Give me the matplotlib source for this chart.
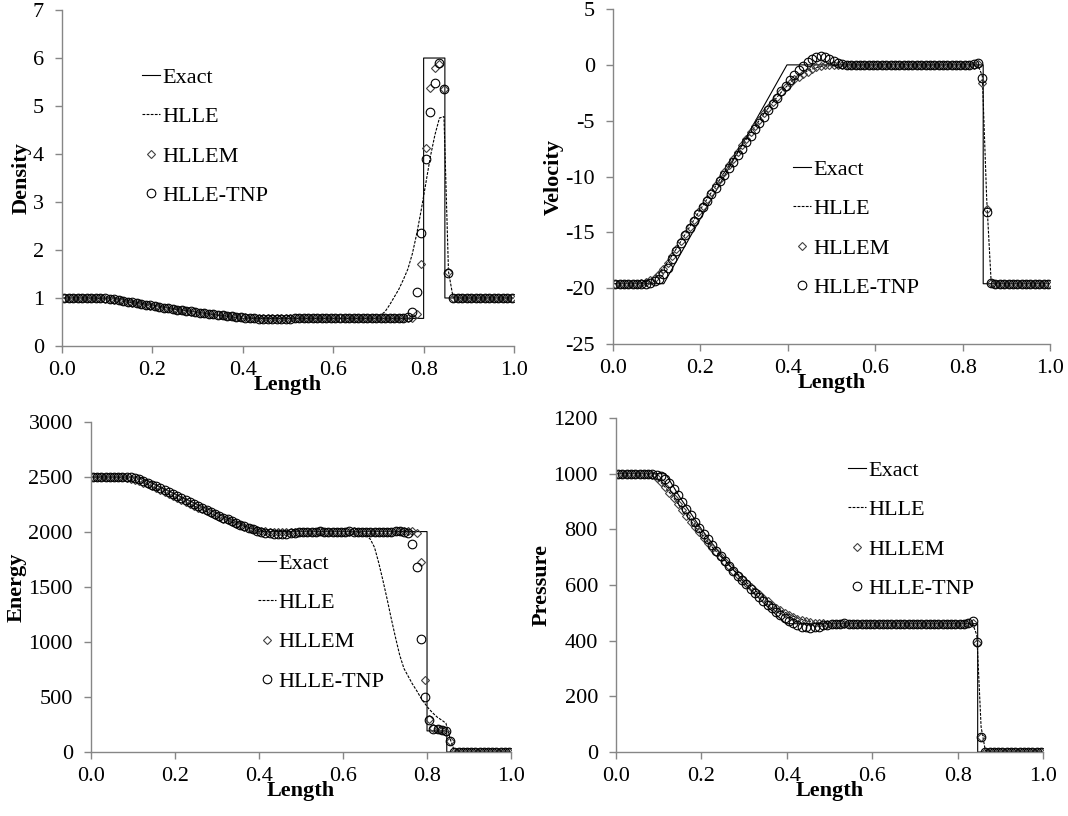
import numpy as np
import matplotlib
matplotlib.use("Agg")
import matplotlib.pyplot as plt
from matplotlib.ticker import FormatStrFormatter

plt.rcParams['font.family'] = ['Liberation Serif', 'DejaVu Serif']

# cell centres of the 100-cell grid
x_cells = np.linspace(0.005, 0.995, 100)

# ---- exact solution, break points ----
exact_x = [0.0, 0.116, 0.15, 0.2, 0.25, 0.3, 0.35, 0.398, 0.8, 0.8, 0.847, 0.847, 1.0]
exact_rho = [1.0, 1.0, 0.938, 0.853, 0.775, 0.702, 0.635, 0.575, 0.575, 6.0, 6.0, 1.0, 1.0]
exact_e = [2500, 2500, 2437, 2346, 2257, 2170, 2084, 2004, 2004, 192, 192, 0.025, 0.025]
exact_xu = [0.0, 0.116, 0.398, 0.847, 0.847, 1.0]
exact_u = [-19.6, -19.6, 0.0, 0.0, -19.6, -19.6]
exact_xp = [0.0, 0.116, 0.15, 0.2, 0.25, 0.3, 0.35, 0.398, 0.847, 0.847, 1.0]
exact_p = [1000, 1000, 914, 801, 699, 609, 529, 461, 461, 0.01, 0.01]

# ---- density ----
rho_hlle = [
    1.000, 1.000, 1.000, 1.000, 1.000, 0.999, 0.998, 0.995, 0.990, 0.982,
    0.971, 0.959, 0.945, 0.931, 0.916, 0.901, 0.886, 0.871, 0.856, 0.841,
    0.827, 0.812, 0.798, 0.784, 0.771, 0.757, 0.744, 0.731, 0.719, 0.707,
    0.695, 0.684, 0.673, 0.662, 0.652, 0.642, 0.633, 0.624, 0.616, 0.608,
    0.601, 0.595, 0.590, 0.586, 0.582, 0.579, 0.577, 0.576, 0.575, 0.575,
    0.575, 0.575, 0.575, 0.575, 0.575, 0.575, 0.575, 0.575, 0.575, 0.575,
    0.575, 0.575, 0.575, 0.575, 0.575, 0.575, 0.575, 0.576, 0.578, 0.590,
    0.640, 0.720, 0.860, 1.020, 1.180, 1.380, 1.600, 1.920, 2.350, 2.850,
    3.400, 3.950, 4.400, 4.750, 4.780, 1.550, 1.020, 1.000, 1.000, 1.000,
    1.000, 1.000, 1.000, 1.000, 1.000, 1.000, 1.000, 1.000, 1.000, 1.000]
rho_hllem = [
    1.000, 1.000, 1.000, 1.000, 1.000, 1.000, 0.999, 0.997, 0.993, 0.986,
    0.976, 0.964, 0.950, 0.935, 0.920, 0.904, 0.889, 0.873, 0.858, 0.843,
    0.828, 0.813, 0.799, 0.785, 0.771, 0.757, 0.744, 0.731, 0.718, 0.706,
    0.694, 0.682, 0.671, 0.660, 0.649, 0.639, 0.629, 0.620, 0.611, 0.603,
    0.596, 0.590, 0.585, 0.581, 0.578, 0.576, 0.575, 0.574, 0.574, 0.574,
    0.575, 0.575, 0.575, 0.574, 0.575, 0.575, 0.576, 0.575, 0.575, 0.575,
    0.575, 0.575, 0.575, 0.575, 0.575, 0.575, 0.575, 0.575, 0.575, 0.575,
    0.575, 0.575, 0.575, 0.575, 0.575, 0.575, 0.576, 0.585, 0.670, 1.700,
    4.120, 5.380, 5.790, 5.870, 5.350, 1.550, 1.000, 1.000, 1.000, 1.000,
    1.000, 1.000, 1.000, 1.000, 1.000, 1.000, 1.000, 1.000, 1.000, 1.000]
rho_tnp = [
    1.000, 1.000, 1.000, 1.000, 1.000, 1.000, 1.000, 1.000, 0.998, 0.993,
    0.985, 0.972, 0.957, 0.941, 0.925, 0.909, 0.893, 0.877, 0.861, 0.846,
    0.831, 0.816, 0.801, 0.787, 0.773, 0.759, 0.745, 0.732, 0.719, 0.706,
    0.694, 0.682, 0.670, 0.658, 0.647, 0.636, 0.625, 0.615, 0.605, 0.596,
    0.588, 0.581, 0.575, 0.570, 0.566, 0.564, 0.563, 0.564, 0.566, 0.569,
    0.572, 0.574, 0.575, 0.575, 0.576, 0.575, 0.575, 0.574, 0.575, 0.575,
    0.575, 0.576, 0.575, 0.575, 0.575, 0.574, 0.575, 0.575, 0.575, 0.575,
    0.575, 0.575, 0.575, 0.575, 0.576, 0.580, 0.610, 0.700, 1.130, 2.350,
    3.900, 4.880, 5.470, 5.890, 5.350, 1.520, 1.000, 1.000, 1.000, 1.000,
    1.000, 1.000, 1.000, 1.000, 1.000, 1.000, 1.000, 1.000, 1.000, 1.000]

# ---- velocity ----
u_hlle = [
    -19.60, -19.60, -19.60, -19.60, -19.60, -19.58, -19.52, -19.40, -19.22, -18.95,
    -18.60, -18.17, -17.65, -17.07, -16.45, -15.81, -15.17, -14.53, -13.89, -13.25,
    -12.63, -12.02, -11.42, -10.82, -10.22, -9.62, -9.02, -8.42, -7.83, -7.24,
    -6.65, -6.07, -5.50, -4.94, -4.40, -3.88, -3.38, -2.90, -2.44, -2.01,
    -1.62, -1.28, -0.99, -0.74, -0.54, -0.38, -0.25, -0.15, -0.08, -0.03,
    0.00, 0.00, 0.00, 0.00, 0.00, 0.00, 0.00, 0.00, 0.00, 0.00,
    0.00, 0.00, 0.00, 0.00, 0.00, 0.00, 0.00, 0.00, 0.00, 0.00,
    0.00, 0.00, 0.00, 0.00, 0.00, 0.00, 0.00, 0.00, 0.00, 0.00,
    0.00, 0.00, 0.00, 0.00, -1.00, -12.00, -19.30, -19.60, -19.60, -19.60,
    -19.60, -19.60, -19.60, -19.60, -19.60, -19.60, -19.60, -19.60, -19.60, -19.60]
u_hllem = [
    -19.60, -19.60, -19.60, -19.60, -19.60, -19.60, -19.55, -19.45, -19.30, -19.05,
    -18.70, -18.25, -17.70, -17.10, -16.45, -15.80, -15.15, -14.50, -13.85, -13.20,
    -12.60, -12.00, -11.40, -10.80, -10.20, -9.60, -9.00, -8.40, -7.80, -7.20,
    -6.60, -6.00, -5.45, -4.90, -4.35, -3.85, -3.35, -2.85, -2.40, -1.95,
    -1.60, -1.30, -1.05, -0.82, -0.60, -0.40, -0.22, -0.10, -0.04, 0.00,
    0.00, 0.01, 0.00, -0.01, 0.00, 0.00, 0.01, 0.00, 0.00, -0.01,
    0.00, 0.00, 0.01, 0.00, 0.00, 0.00, -0.01, 0.00, 0.00, 0.00,
    0.00, 0.01, 0.00, 0.00, 0.00, 0.00, 0.00, 0.00, 0.00, 0.00,
    0.00, 0.01, 0.02, 0.05, -1.60, -12.90, -19.50, -19.60, -19.60, -19.60,
    -19.60, -19.60, -19.60, -19.60, -19.60, -19.60, -19.60, -19.60, -19.60, -19.60]
u_tnp = [
    -19.60, -19.60, -19.60, -19.60, -19.60, -19.60, -19.60, -19.60, -19.50, -19.40,
    -19.15, -18.75, -18.15, -17.40, -16.65, -15.92, -15.22, -14.58, -13.95, -13.34,
    -12.74, -12.15, -11.57, -10.99, -10.41, -9.83, -9.25, -8.67, -8.09, -7.51,
    -6.93, -6.35, -5.78, -5.21, -4.64, -4.07, -3.50, -2.93, -2.38, -1.85,
    -1.35, -0.88, -0.45, -0.07, 0.25, 0.50, 0.68, 0.76, 0.70, 0.52,
    0.33, 0.18, 0.08, 0.03, 0.01, 0.00, -0.02, -0.03, -0.02, 0.00,
    0.01, 0.02, 0.01, 0.00, -0.01, 0.00, 0.01, 0.00, 0.00, 0.00,
    0.00, 0.01, 0.00, 0.00, 0.00, -0.01, 0.00, 0.00, 0.00, 0.00,
    0.00, 0.02, 0.05, 0.15, -1.20, -13.20, -19.50, -19.60, -19.60, -19.60,
    -19.60, -19.60, -19.60, -19.60, -19.60, -19.60, -19.60, -19.60, -19.60, -19.60]

# ---- internal energy ----
e_hlle = [
    2500, 2500, 2500, 2500, 2500, 2499, 2497, 2494, 2489, 2481,
    2471, 2459, 2446, 2431, 2414, 2397, 2379, 2361, 2343, 2325,
    2307, 2289, 2272, 2254, 2237, 2220, 2203, 2186, 2170, 2154,
    2138, 2122, 2107, 2092, 2078, 2064, 2051, 2039, 2029, 2020,
    2013, 2008, 2005, 2003, 2002, 2002, 2002, 2003, 2003, 2004,
    2004, 2004, 2004, 2004, 2004, 2004, 2004, 2004, 2004, 2004,
    2004, 2004, 2003, 2000, 1990, 1970, 1935, 1860, 1720, 1560,
    1390, 1210, 1040, 880, 760, 690, 620, 560, 495, 440,
    390, 350, 315, 290, 262, 120, 10, 0.03, 0.03, 0.03,
    0.03, 0.03, 0.03, 0.03, 0.03, 0.03, 0.03, 0.03, 0.03, 0.03]
e_hllem = [
    2500, 2500, 2500, 2500, 2500, 2500, 2499, 2497, 2493, 2486,
    2476, 2464, 2450, 2434, 2417, 2399, 2381, 2363, 2345, 2327,
    2309, 2291, 2273, 2256, 2239, 2222, 2205, 2188, 2171, 2155,
    2139, 2123, 2107, 2092, 2077, 2063, 2050, 2038, 2027, 2018,
    2011, 2005, 2001, 1998, 1997, 1997, 1998, 2000, 2002, 2003,
    2004, 2004, 2004, 2004, 2005, 2004, 2004, 2004, 2003, 2004,
    2004, 2004, 2005, 2004, 2004, 2004, 2003, 2004, 2004, 2004,
    2004, 2004, 2005, 2006, 2008, 2008, 2008, 1990, 1730, 655,
    300, 215, 205, 198, 185, 100, 0.03, 0.03, 0.03, 0.03,
    0.03, 0.03, 0.03, 0.03, 0.03, 0.03, 0.03, 0.03, 0.03, 0.03]
e_tnp = [
    2500, 2500, 2500, 2500, 2500, 2500, 2500, 2500, 2499, 2496,
    2490, 2480, 2466, 2450, 2432, 2414, 2396, 2378, 2360, 2342,
    2324, 2306, 2288, 2270, 2252, 2235, 2218, 2200, 2183, 2166,
    2149, 2132, 2115, 2098, 2082, 2066, 2051, 2037, 2024, 2013,
    2003, 1995, 1989, 1985, 1983, 1983, 1985, 1989, 1994, 1998,
    2001, 2003, 2004, 2004, 2005, 2004, 2004, 2003, 2004, 2004,
    2004, 2005, 2004, 2004, 2004, 2003, 2004, 2004, 2004, 2004,
    2004, 2004, 2005, 2005, 2003, 1990, 1895, 1680, 1030, 500,
    290, 210, 205, 200, 190, 100, 0.03, 0.03, 0.03, 0.03,
    0.03, 0.03, 0.03, 0.03, 0.03, 0.03, 0.03, 0.03, 0.03, 0.03]

# ---- pressure ----
p_hlle = [
    1000, 1000, 1000, 1000, 1000, 1000, 999, 997, 992, 983,
    969, 952, 933, 913, 892, 871, 851, 831, 811, 792,
    773, 755, 737, 720, 703, 687, 671, 655, 640, 625,
    610, 596, 582, 569, 556, 544, 533, 522, 512, 503,
    495, 488, 482, 477, 472, 469, 466, 464, 463, 462,
    461, 461, 461, 461, 461, 461, 461, 461, 461, 461,
    461, 461, 461, 461, 461, 461, 461, 461, 461, 461,
    461, 461, 461, 461, 461, 461, 461, 461, 461, 461,
    461, 461, 461, 462, 420, 90, 5, 0.01, 0.01, 0.01,
    0.01, 0.01, 0.01, 0.01, 0.01, 0.01, 0.01, 0.01, 0.01, 0.01]
p_hllem = [
    1000, 1000, 1000, 1000, 1000, 1000, 1000, 998, 994, 985,
    970, 952, 932, 911, 890, 869, 848, 828, 808, 789,
    770, 752, 734, 717, 700, 684, 668, 652, 637, 622,
    607, 593, 579, 566, 553, 541, 530, 519, 509, 500,
    492, 485, 479, 474, 470, 467, 465, 463, 462, 461,
    461, 461, 461, 461, 461, 461, 461, 461, 461, 461,
    461, 461, 461, 461, 461, 461, 461, 461, 461, 461,
    461, 461, 461, 461, 461, 461, 461, 461, 461, 461,
    461, 461, 462, 465, 390, 55, 0.01, 0.01, 0.01, 0.01,
    0.01, 0.01, 0.01, 0.01, 0.01, 0.01, 0.01, 0.01, 0.01, 0.01]
p_tnp = [
    1000, 1000, 1000, 1000, 1000, 1000, 1000, 1000, 999, 996,
    991, 982, 966, 945, 922, 898, 874, 851, 828, 806,
    785, 764, 744, 724, 705, 687, 669, 651, 634, 618,
    602, 586, 571, 556, 542, 529, 516, 503, 491, 480,
    470, 462, 456, 451, 448, 447, 448, 451, 455, 458,
    460, 461, 461, 462, 461, 461, 460, 461, 461, 461,
    461, 461, 461, 461, 461, 461, 461, 461, 461, 461,
    461, 461, 461, 461, 461, 461, 461, 461, 461, 461,
    461, 461, 462, 472, 395, 55, 0.01, 0.01, 0.01, 0.01,
    0.01, 0.01, 0.01, 0.01, 0.01, 0.01, 0.01, 0.01, 0.01, 0.01]

axis_grey = '#868686'


def draw_panel(ax, ex_x, ex_y, hlle, hllem, tnp, ylabel, ylim, ystep, leg_anchor):
    ax.plot(ex_x, ex_y, color='black', lw=0.8, label='Exact')
    ax.plot(x_cells, hlle, color='black', lw=0.8, dashes=(2.5, 1.2), label='HLLE')
    ax.plot(x_cells, hllem, ls='none', marker='D', ms=4.2, mfc='none',
            mec='#404040', mew=0.8, label='HLLEM')
    ax.plot(x_cells, tnp, ls='none', marker='o', ms=6.2, mfc='none',
            mec='black', mew=0.8, label='HLLE-TNP')

    ax.set_xlim(0, 1)
    ax.set_ylim(*ylim)
    ax.set_xticks(np.arange(0, 1.01, 0.2))
    ax.set_yticks(np.arange(ylim[0], ylim[1] + 0.1, ystep))
    ax.xaxis.set_major_formatter(FormatStrFormatter('%.1f'))
    ax.yaxis.set_major_formatter(FormatStrFormatter('%d'))

    for side in ('top', 'right'):
        ax.spines[side].set_visible(False)
    for side in ('left', 'bottom'):
        ax.spines[side].set_color(axis_grey)
        ax.spines[side].set_linewidth(1.0)
    ax.tick_params(direction='out', length=5, width=1.0, color=axis_grey,
                   labelsize=16)
    ax.tick_params(axis='x', pad=5.5)
    ax.tick_params(axis='y', pad=8)

    ax.set_xlabel('Length', fontsize=16, fontweight='bold', labelpad=-3)
    ax.set_ylabel(ylabel, fontsize=16, fontweight='bold', labelpad=1)

    ax.legend(loc='upper left', bbox_to_anchor=leg_anchor, frameon=False,
              fontsize=16, handlelength=0.8, handletextpad=0.1,
              labelspacing=0.85, borderpad=0, borderaxespad=0)


fig = plt.figure(figsize=(10.68, 8.16), dpi=100)
ax_rho = fig.add_axes([0.0581, 0.5760, 0.4232, 0.4117])
ax_u = fig.add_axes([0.5740, 0.5784, 0.4092, 0.4105])
ax_e = fig.add_axes([0.0852, 0.0784, 0.3933, 0.4044])
ax_p = fig.add_axes([0.5768, 0.0784, 0.3998, 0.4093])

draw_panel(ax_rho, exact_x, exact_rho, rho_hlle, rho_hllem, rho_tnp,
           'Density', (0, 7), 1, (0.177, 0.830))
draw_panel(ax_u, exact_xu, exact_u, u_hlle, u_hllem, u_tnp,
           'Velocity', (-25, 5), 5, (0.412, 0.552))
draw_panel(ax_e, exact_x, exact_e, e_hlle, e_hllem, e_tnp,
           'Energy', (0, 3000), 500, (0.398, 0.603))
draw_panel(ax_p, exact_xp, exact_p, p_hlle, p_hllem, p_tnp,
           'Pressure', (0, 1200), 200, (0.543, 0.874))

fig.savefig('out.png', dpi=100)
